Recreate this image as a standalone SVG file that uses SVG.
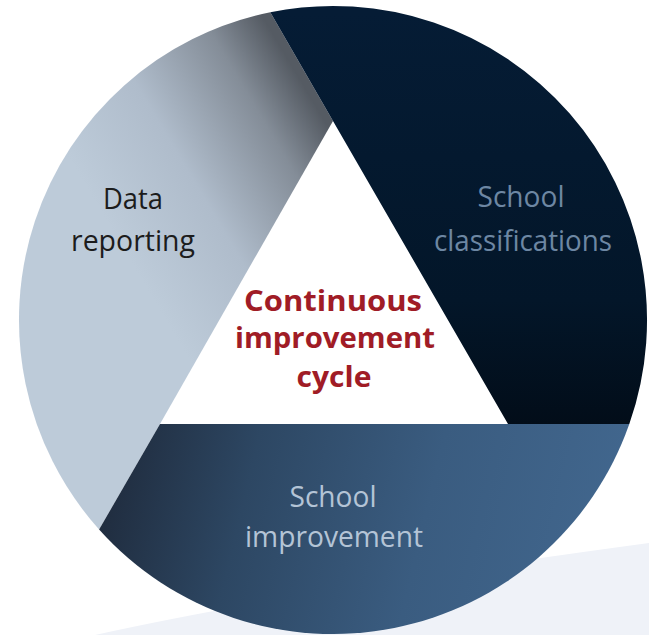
<svg xmlns="http://www.w3.org/2000/svg" width="649" height="635" viewBox="0 0 649 635">
  <defs>
    <linearGradient id="gData" gradientUnits="userSpaceOnUse" x1="100" y1="210" x2="305" y2="88">
      <stop offset="0" stop-color="#bdcbd9"/>
      <stop offset="0.4" stop-color="#afbccb"/>
      <stop offset="0.78" stop-color="#848d98"/>
      <stop offset="1" stop-color="#555b63"/>
    </linearGradient>
    <linearGradient id="gClass" gradientUnits="userSpaceOnUse" x1="0" y1="12" x2="0" y2="424">
      <stop offset="0" stop-color="#051c35"/>
      <stop offset="0.7" stop-color="#031629"/>
      <stop offset="1" stop-color="#020d19"/>
    </linearGradient>
    <linearGradient id="gImpr" gradientUnits="userSpaceOnUse" x1="100" y1="440" x2="600" y2="560">
      <stop offset="0" stop-color="#1e293a"/>
      <stop offset="0.3" stop-color="#2d4763"/>
      <stop offset="0.65" stop-color="#3a5c80"/>
      <stop offset="1" stop-color="#41668d"/>
    </linearGradient>
    <style>
      .lbl { font-family: "Open Sans", "Noto Sans", "Liberation Sans", sans-serif; font-size: 30px; text-anchor: middle; }
      .center { font-family: "Open Sans", "Noto Sans", "Liberation Sans", sans-serif; font-size: 29px; font-weight: bold; text-anchor: middle; fill: #a01c26; }
    </style>
  </defs>
  <rect width="649" height="635" fill="#ffffff"/>
  <path d="M 95 635 Q 300 590 649 543 L 649 635 Z" fill="#eff2f8"/>

  <g id="data-reporting">
    <path d="M 333 121 L 270.3 12.3 A 314 314 0 0 0 99.1 529.5 L 160 424 Z" fill="url(#gData)"/>
    <text class="lbl" fill="#1c1c1c" x="133" y="209" textLength="60" lengthAdjust="spacingAndGlyphs">Data</text>
    <text class="lbl" fill="#1c1c1c" x="133" y="251" textLength="124" lengthAdjust="spacingAndGlyphs">reporting</text>
  </g>

  <g id="school-classifications">
    <path d="M 270.3 12.3 A 314 314 0 0 1 629.3 424 L 508 424 L 333 121 Z" fill="url(#gClass)"/>
    <text class="lbl" fill="#6d87a3" x="521" y="207" textLength="87" lengthAdjust="spacingAndGlyphs">School</text>
    <text class="lbl" fill="#6d87a3" x="523" y="251" textLength="178" lengthAdjust="spacingAndGlyphs">classifications</text>
  </g>

  <g id="school-improvement">
    <path d="M 629.3 424 A 314 314 0 0 1 99.1 529.5 L 160 424 Z" fill="url(#gImpr)"/>
    <text class="lbl" fill="#b4c4d6" x="333" y="507" textLength="87" lengthAdjust="spacingAndGlyphs">School</text>
    <text class="lbl" fill="#b4c4d6" x="334" y="547" textLength="178" lengthAdjust="spacingAndGlyphs">improvement</text>
  </g>

  <g id="continuous-improvement-cycle">
    <text class="center" x="333" y="311" textLength="178" lengthAdjust="spacingAndGlyphs">Continuous</text>
    <text class="center" x="335" y="348" textLength="200" lengthAdjust="spacingAndGlyphs">improvement</text>
    <text class="center" x="334" y="387" textLength="75" lengthAdjust="spacingAndGlyphs">cycle</text>
  </g>

  <g id="connectors"/>
</svg>
